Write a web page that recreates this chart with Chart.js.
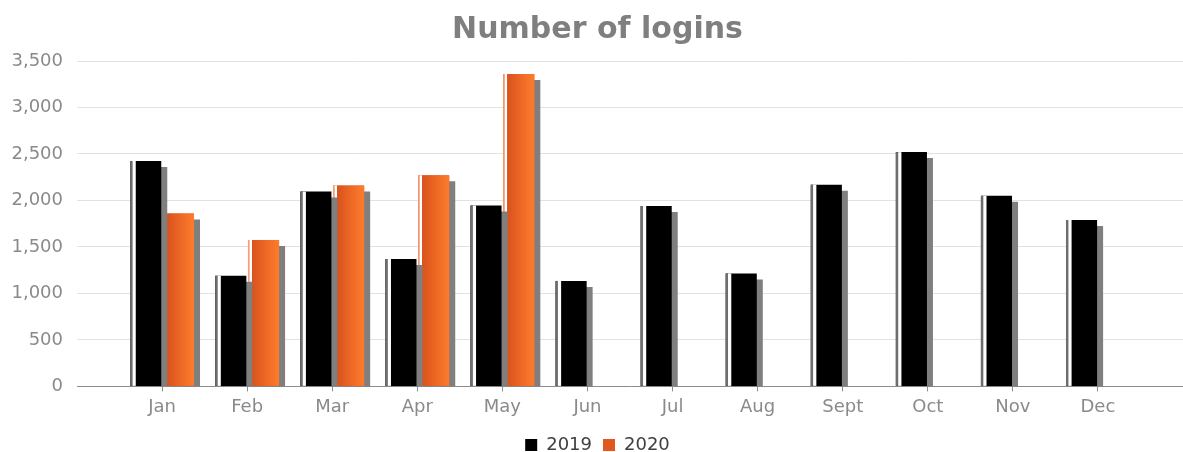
<!DOCTYPE html>
<html>
<head>
<meta charset="utf-8">
<script src="https://cdn.jsdelivr.net/npm/chart.js@4"></script>
<style>
  html, body { margin: 0; padding: 0; background: #fff; }
  #wrap { width: 1183px; height: 452px; }
</style>
</head>
<body>
<div id="wrap"><canvas id="logins-chart"></canvas></div>
<script>
var months = ['Jan', 'Feb', 'Mar', 'Apr', 'May', 'Jun', 'Jul', 'Aug', 'Sept', 'Oct', 'Nov', 'Dec'];
var logins2019 = [2425, 1190, 2095, 1370, 1945, 1135, 1940, 1215, 2170, 2520, 2050, 1790];
var logins2020 = [1860, 1575, 2160, 2270, 3360, null, null, null, null, null, null, null];
var yTicks = [0, 500, 1000, 1500, 2000, 2500, 3000, 3500];

Chart.defaults.font.family = "'DejaVu Sans', sans-serif";

function toPoints(values) {
    return values.map(function (v, i) { return { x: i, y: v }; });
}

// fake 3d look: flat grey drop shadow plus a light edge on the left of each bar
var barLook = {
    id: 'barLook',
    beforeDatasetDraw: function (chart) {
        var ctx = chart.ctx;
        ctx.save();
        ctx.shadowColor = '#7f7f7f';
        ctx.shadowOffsetX = 6;
        ctx.shadowOffsetY = 6;
        ctx.shadowBlur = 0;
    },
    afterDatasetDraw: function (chart, args) {
        var ctx = chart.ctx;
        ctx.restore();
        var meta = args.meta;
        var orange = args.index === 1;
        meta.data.forEach(function (bar) {
            var p = bar.getProps(['x', 'y', 'base', 'width'], true);
            if (isNaN(p.y)) return;
            var left = p.x - p.width / 2;
            var h = p.base - p.y;
            var edge = orange ? 1.5 : 2.3;
            var gap = orange ? 2.5 : 3.3;
            ctx.save();
            ctx.fillStyle = orange ? '#f3a07a' : '#6e6e6e';
            ctx.fillRect(left, p.y, edge, h);
            ctx.fillStyle = '#ffffff';
            ctx.fillRect(left + edge, p.y, gap, h);
            if (orange) {
                var g = ctx.createLinearGradient(left + edge + gap, 0, left + p.width, 0);
                g.addColorStop(0, '#d8521d');
                g.addColorStop(0.55, '#ef6a25');
                g.addColorStop(1, '#fb7c2e');
                ctx.fillStyle = g;
                ctx.fillRect(left + edge + gap, p.y, p.width - edge - gap, h);
            }
            ctx.restore();
        });
    }
};

var ctxLogins = document.getElementById('logins-chart').getContext('2d');
var loginsChart = new Chart(ctxLogins, {
    type: 'bar',
    data: {
        datasets: [{
            label: '2019',
            data: toPoints(logins2019),
            backgroundColor: '#000000',
            borderWidth: 0,
            categoryPercentage: 0.77,
            barPercentage: 0.95,
            clip: 0
        }, {
            label: '2020',
            data: toPoints(logins2020),
            backgroundColor: '#e0581f',
            borderWidth: 0,
            categoryPercentage: 0.77,
            barPercentage: 0.95,
            clip: 0
        }]
    },
    options: {
        responsive: true,
        maintainAspectRatio: false,
        animation: false,
        layout: { padding: { left: 12, right: 0, top: 0, bottom: -12 } },
        plugins: {
            title: {
                display: true,
                text: 'Number of logins',
                color: '#7f7f7f',
                font: { size: 30, weight: 'bold' },
                padding: { top: 12, bottom: 13 }
            },
            legend: {
                position: 'bottom',
                labels: {
                    color: '#404040',
                    font: { size: 18 },
                    boxWidth: 12,
                    boxHeight: 12,
                    padding: 11
                }
            },
            tooltip: { enabled: false }
        },
        scales: {
            x: {
                type: 'linear',
                min: -1,
                max: 12,
                offset: false,
                afterBuildTicks: function (axis) {
                    axis.ticks = months.map(function (m, i) { return { value: i }; });
                },
                afterFit: function (axis) {
                    axis.height += 2;
                },
                ticks: {
                    autoSkip: false,
                    maxRotation: 0,
                    color: '#8a8a8a',
                    font: { size: 18 },
                    padding: 5,
                    callback: function (v) { return months[v]; }
                },
                grid: {
                    offset: false,
                    drawOnChartArea: false,
                    tickLength: 5,
                    color: '#8c8c8c'
                },
                border: { color: '#8c8c8c', width: 1 }
            },
            y: {
                min: 0,
                max: 3500,
                afterBuildTicks: function (axis) {
                    axis.ticks = yTicks.map(function (v) { return { value: v }; });
                },
                afterFit: function (axis) {
                    axis.width = 65;
                },
                ticks: {
                    color: '#8a8a8a',
                    font: { size: 18 },
                    padding: 14,
                    callback: function (v) { return v.toLocaleString('en-US'); }
                },
                grid: {
                    color: '#e2e2e2',
                    drawTicks: false
                },
                border: { display: false }
            }
        }
    },
    plugins: [barLook]
});
</script>
</body>
</html>
